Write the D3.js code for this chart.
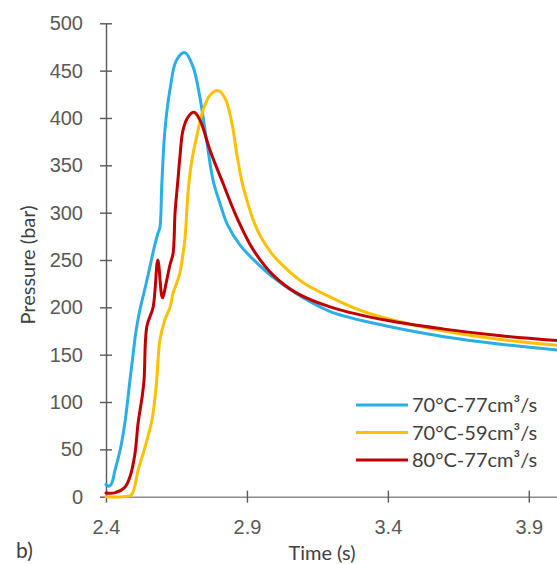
<!DOCTYPE html>
<html>
<head>
<meta charset="utf-8">
<script src="https://cdn.jsdelivr.net/npm/d3@7"></script>
<style>
  html, body { margin: 0; padding: 0; background: #fff; }
  svg { display: block; font-family: Lato, "Open Sans", sans-serif; }
</style>
</head>
<body>
<svg id="chart" width="557" height="564"></svg>
<script>
// Injection pressure traces (bar) vs time (s)
const timeBlue = [2.400, 2.410, 2.420, 2.432, 2.450, 2.467, 2.485, 2.500, 2.505, 2.520, 2.540, 2.556, 2.570, 2.584, 2.591, 2.598, 2.609, 2.627, 2.650, 2.680, 2.709, 2.733, 2.757, 2.780, 2.804, 2.830, 2.875, 2.935, 3.000, 3.100, 3.200, 3.400, 3.600, 3.800, 4.000];
const pressBlue = [13, 11, 14, 28, 49, 78, 123, 160, 172, 197, 222, 243, 262, 278, 284, 330, 387, 430, 461, 469, 454, 422, 376, 334, 310, 288, 266, 247, 230, 210, 195, 180, 169, 161, 155];

const timeYellow = [2.400, 2.460, 2.490, 2.514, 2.538, 2.563, 2.574, 2.580, 2.591, 2.609, 2.627, 2.638, 2.650, 2.662, 2.670, 2.680, 2.692, 2.705, 2.723, 2.744, 2.769, 2.797, 2.822, 2.847, 2.864, 2.882, 2.900, 2.925, 2.950, 2.990, 3.042, 3.100, 3.194, 3.300, 3.400, 3.600, 3.800, 4.000];
const pressYellow = [0, 0, 2, 28, 52, 81, 105, 123, 165, 187, 200, 215, 225, 236, 250, 272, 325, 356, 382, 408, 424, 429, 421, 394, 362, 333, 313, 290, 274, 256, 240, 226, 211, 197, 188, 175, 166, 160];

const timeRed = [2.400, 2.430, 2.467, 2.485, 2.503, 2.514, 2.528, 2.535, 2.545, 2.567, 2.584, 2.600, 2.615, 2.627, 2.638, 2.645, 2.655, 2.662, 2.673, 2.691, 2.712, 2.733, 2.769, 2.815, 2.864, 2.922, 2.993, 3.077, 3.200, 3.400, 3.600, 3.800, 4.000];
const pressRed = [4, 4, 10, 21, 46, 78, 105, 123, 180, 200, 250, 210, 228, 245, 257, 300, 334, 358, 387, 401, 406, 398, 366, 331, 295, 261, 234, 215, 200, 186, 177, 170, 165];

const seriesNames = ["70°C-77cm³/s", "70°C-59cm³/s", "80°C-77cm³/s"];
const seriesColors = ["#2aaee6", "#ffc000", "#c00000"];
const seriesTimes = [timeBlue, timeYellow, timeRed];
const seriesPress = [pressBlue, pressYellow, pressRed];

const xTicks = [2.4, 2.9, 3.4, 3.9];
const yTicks = [0, 50, 100, 150, 200, 250, 300, 350, 400, 450, 500];

const svg = d3.select("#chart");
const x = d3.scaleLinear().domain([2.4, 4.0]).range([106, 557]);
const y = d3.scaleLinear().domain([0, 500]).range([496.7, 23.3]);

svg.append("defs").append("clipPath").attr("id", "plot")
  .append("rect").attr("x", 100).attr("y", 0).attr("width", 457).attr("height", 510);

// Y axis with ticks crossing the axis line
const gy = svg.append("g").attr("transform", `translate(${x(2.4)},0)`)
  .call(d3.axisLeft(y).tickValues(yTicks).tickSize(6).tickSizeOuter(0).tickPadding(17));
gy.select(".domain").attr("stroke", "#595959").attr("stroke-width", 1.4);
gy.selectAll(".tick line").attr("x1", -6).attr("x2", 6).attr("stroke", "#595959").attr("stroke-width", 1.4);
gy.selectAll(".tick text").attr("fill", "#595959").attr("font-size", 20);

// X axis
const gx = svg.append("g").attr("transform", `translate(0,${y(0)})`)
  .call(d3.axisBottom(x).tickValues(xTicks).tickFormat(d3.format(".1f")).tickSize(6).tickSizeOuter(0).tickPadding(17));
gx.select(".domain").attr("stroke", "#8c8c8c").attr("stroke-width", 1.6);
gx.selectAll(".tick line").attr("y1", -6).attr("y2", 6).attr("stroke", "#595959").attr("stroke-width", 1.4);
gx.selectAll(".tick text").attr("fill", "#595959").attr("font-size", 20);

// Axis titles
svg.append("text").attr("x", 322).attr("y", 560).attr("text-anchor", "middle")
  .attr("fill", "#404040").attr("font-size", 20).text("Time (s)");
svg.append("text").attr("transform", "translate(35,265) rotate(-90)").attr("text-anchor", "middle")
  .attr("fill", "#404040").attr("font-size", 20).text("Pressure (bar)");
svg.append("text").attr("x", 16).attr("y", 558).attr("fill", "#404040").attr("font-size", 21).text("b)");

// Pressure curves
const line = d3.line().x(d => x(d[0])).y(d => y(d[1])).curve(d3.curveCatmullRom.alpha(0.5));
const plot = svg.append("g").attr("clip-path", "url(#plot)");
seriesNames.forEach((name, i) => {
  const pts = seriesTimes[i].map((t, k) => [t, seriesPress[i][k]]);
  plot.append("path").datum(pts).attr("d", line)
    .attr("fill", "none").attr("stroke", seriesColors[i]).attr("stroke-width", 3)
    .attr("stroke-linejoin", "round").attr("stroke-linecap", "round");
});

// Legend
const legend = svg.append("g").attr("transform", "translate(356,405)");
seriesNames.forEach((name, i) => {
  const row = legend.append("g").attr("transform", `translate(0,${i * 27.5})`);
  row.append("line").attr("x1", 0).attr("x2", 52).attr("y1", 0).attr("y2", 0)
    .attr("stroke", seriesColors[i]).attr("stroke-width", 3);
  row.append("text").attr("x", 56).attr("y", 7).attr("fill", "#404040").attr("font-size", 20).text(name);
});
</script>
</body>
</html>
